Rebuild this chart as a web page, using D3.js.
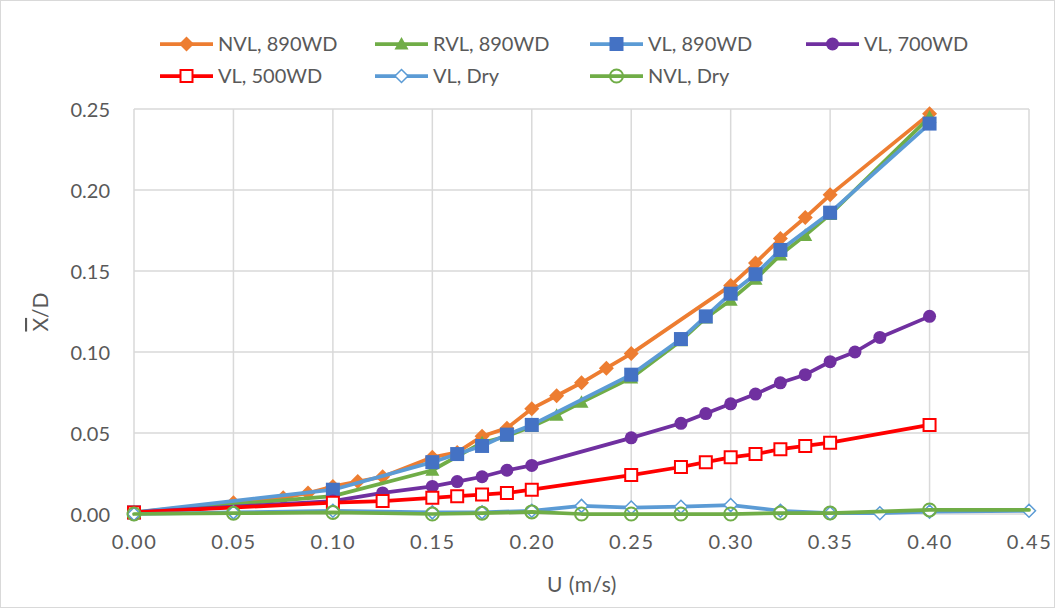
<!DOCTYPE html>
<html><head><meta charset="utf-8">
<script src="https://cdn.jsdelivr.net/npm/d3@7"></script>
<style>
body{margin:0;background:#fff;}
text{font-family:Lato,"Open Sans",sans-serif;fill:#595959;}
</style></head>
<body><svg id="c" width="1056" height="609"></svg>
<script>
// ---- data ----
const xTicks = [0,0.05,0.10,0.15,0.20,0.25,0.30,0.35,0.40,0.45];
const yTicks = [0,0.05,0.10,0.15,0.20,0.25];

const nvl890X = [0,0.05,0.075,0.0875,0.10,0.1125,0.125,0.15,0.1625,0.175,0.1875,0.20,0.2125,0.225,0.2375,0.25,0.30,0.3125,0.325,0.3375,0.35,0.40];
const nvl890Y = [0.001,0.007,0.010,0.013,0.017,0.020,0.023,0.035,0.038,0.048,0.053,0.065,0.073,0.081,0.090,0.099,0.141,0.155,0.170,0.183,0.197,0.247];

const rvl890X = [0,0.10,0.15,0.175,0.1875,0.20,0.2125,0.225,0.25,0.275,0.2875,0.30,0.3125,0.325,0.3375,0.35,0.40];
const rvl890Y = [0.001,0.011,0.027,0.044,0.048,0.054,0.061,0.069,0.084,0.107,0.121,0.132,0.145,0.160,0.172,0.185,0.245];

const vl890X = [0,0.10,0.15,0.1625,0.175,0.1875,0.20,0.25,0.275,0.2875,0.30,0.3125,0.325,0.35,0.40];
const vl890Y = [0.001,0.015,0.032,0.037,0.042,0.049,0.055,0.086,0.108,0.122,0.136,0.148,0.163,0.186,0.241];

const vl700X = [0,0.10,0.125,0.15,0.1625,0.175,0.1875,0.20,0.25,0.275,0.2875,0.30,0.3125,0.325,0.3375,0.35,0.3625,0.375,0.40];
const vl700Y = [0.001,0.008,0.013,0.017,0.020,0.023,0.027,0.030,0.047,0.056,0.062,0.068,0.074,0.081,0.086,0.094,0.100,0.109,0.122];

const vl500X = [0,0.10,0.125,0.15,0.1625,0.175,0.1875,0.20,0.25,0.275,0.2875,0.30,0.3125,0.325,0.3375,0.35,0.40];
const vl500Y = [0.001,0.007,0.008,0.010,0.011,0.012,0.013,0.015,0.024,0.029,0.032,0.035,0.037,0.040,0.042,0.044,0.055];

const vlDryX = [0,0.05,0.10,0.15,0.175,0.20,0.225,0.25,0.275,0.30,0.325,0.35,0.375,0.40,0.45];
const vlDryY = [0,0.001,0.002,0.001,0.001,0.002,0.005,0.004,0.0045,0.0055,0.002,0.0005,0.0005,0.0015,0.002];

const nvlDryX = [0,0.05,0.10,0.15,0.175,0.20,0.225,0.25,0.275,0.30,0.325,0.35,0.40,0.45];
const nvlDryY = [0,0.0005,0.001,0,0.0005,0.0013,0,0,0,0,0.0006,0.0006,0.0025,0.0025];
const nvlDryMarkerless = [0.45];

const seriesNames = ["NVL, 890WD","RVL, 890WD","VL, 890WD","VL, 700WD","VL, 500WD","VL, Dry","NVL, Dry"];

// ---- styles ----
const series = [
  {name:seriesNames[0], xs:nvl890X, ys:nvl890Y, line:"#ED7D31", shape:"diamond", fill:"#ED7D31", stroke:"none", size:15},
  {name:seriesNames[1], xs:rvl890X, ys:rvl890Y, line:"#70AD47", shape:"triangle", fill:"#70AD47", stroke:"none", size:14},
  {name:seriesNames[2], xs:vl890X, ys:vl890Y, line:"#5B9BD5", shape:"square", fill:"#4472C4", stroke:"none", size:14},
  {name:seriesNames[3], xs:vl700X, ys:vl700Y, line:"#7030A0", shape:"circle", fill:"#7030A0", stroke:"none", size:13},
  {name:seriesNames[4], xs:vl500X, ys:vl500Y, line:"#FF0000", shape:"square", fill:"#fff", stroke:"#FF0000", size:12, sw:2},
  {name:seriesNames[5], xs:vlDryX, ys:vlDryY, line:"#5B9BD5", shape:"diamond", fill:"#fff", stroke:"#5B9BD5", size:13, sw:1.5},
  {name:seriesNames[6], xs:nvlDryX, ys:nvlDryY, line:"#70AD47", shape:"circle", fill:"none", stroke:"#70AD47", size:13, sw:2, skip:nvlDryMarkerless}
];

const svg = d3.select("#c");
svg.append("rect").attr("x",0.5).attr("y",0.5).attr("width",1054).attr("height",607)
  .attr("fill","#fff").attr("stroke","#D9D9D9");

const x = d3.scaleLinear().domain([0,0.45]).range([134,1029]);
const y = d3.scaleLinear().domain([0,0.25]).range([514,109]);

// grid
const g = svg.append("g");
g.selectAll(".vg").data(xTicks).join("line")
  .attr("x1",d=>x(d)).attr("x2",d=>x(d)).attr("y1",y(0.25)).attr("y2",y(0))
  .attr("stroke","#D9D9D9").attr("stroke-width",1.5);
g.selectAll(".hg").data(yTicks).join("line")
  .attr("x1",x(0)).attr("x2",x(0.45)).attr("y1",d=>y(d)).attr("y2",d=>y(d))
  .attr("stroke","#D9D9D9").attr("stroke-width",1.5);

// axes
const xa = svg.append("g").attr("transform","translate(0,514)")
  .call(d3.axisBottom(x).tickValues(xTicks).tickFormat(d3.format(".2f")).tickSize(0).tickPadding(21));
xa.select(".domain").remove();
xa.selectAll("text").style("font-size","20px").attr("fill","#595959").style("letter-spacing","1.5px");
const ya = svg.append("g").attr("transform","translate(134,0)")
  .call(d3.axisLeft(y).tickValues(yTicks).tickFormat(d3.format(".2f")).tickSize(0).tickPadding(24));
ya.select(".domain").remove();
ya.selectAll("text").style("font-size","20px").attr("fill","#595959").attr("dy","0.35em");

svg.append("text").attr("x",582).attr("y",592).attr("text-anchor","middle")
  .style("font-size","21px").style("letter-spacing","0.5px").text("U (m/s)");
const yt = svg.append("text").attr("transform","translate(48,312) rotate(-90)").attr("text-anchor","middle")
  .style("font-size","21px");
yt.append("tspan").style("text-decoration","overline").text("X");
yt.append("tspan").text("/D");

function markerPath(shape,s){
  const h=s/2;
  if(shape==="diamond") return `M0,${-h}L${h},0L0,${h}L${-h},0Z`;
  if(shape==="square") return `M${-h},${-h}H${h}V${h}H${-h}Z`;
  if(shape==="triangle") return `M0,${-h}L${h},${h*0.8}L${-h},${h*0.8}Z`;
  return null;
}
function drawMarker(sel,s){
  if(s.shape==="circle"){
    sel.append("circle").attr("r",s.size/2).attr("fill",s.fill).attr("stroke",s.stroke).attr("stroke-width",s.sw||0);
  } else {
    sel.append("path").attr("d",markerPath(s.shape,s.size)).attr("fill",s.fill).attr("stroke",s.stroke).attr("stroke-width",s.sw||0);
  }
}

const line = d3.line().x(d=>x(d[0])).y(d=>y(d[1]));
series.forEach(s=>{
  const pts = s.xs.map((v,i)=>[v,s.ys[i]]);
  const sg = svg.append("g");
  sg.append("path").attr("d",line(pts)).attr("fill","none").attr("stroke",s.line)
    .attr("stroke-width",3.75).attr("stroke-linejoin","round").attr("stroke-linecap","round");
  pts.filter(p=>!(s.skip||[]).includes(p[0])).forEach(p=>{
    const m = sg.append("g").attr("transform",`translate(${x(p[0])},${y(p[1])})`);
    drawMarker(m,s);
  });
});

// legend
const legPos = [[160,44],[375,44],[590,44],[806,44],[160,76],[375,76],[590,76]];
series.forEach((s,i)=>{
  const [lx,ly]=legPos[i];
  const lg = svg.append("g").attr("transform",`translate(${lx},${ly})`);
  lg.append("line").attr("x1",0).attr("x2",53).attr("y1",0).attr("y2",0).attr("stroke",s.line).attr("stroke-width",3.75);
  const m = lg.append("g").attr("transform","translate(26.5,0)");
  drawMarker(m,s);
  lg.append("text").attr("x",58).attr("y",0).attr("dy","0.35em").style("font-size","20px").text(s.name);
});
</script></body></html>
